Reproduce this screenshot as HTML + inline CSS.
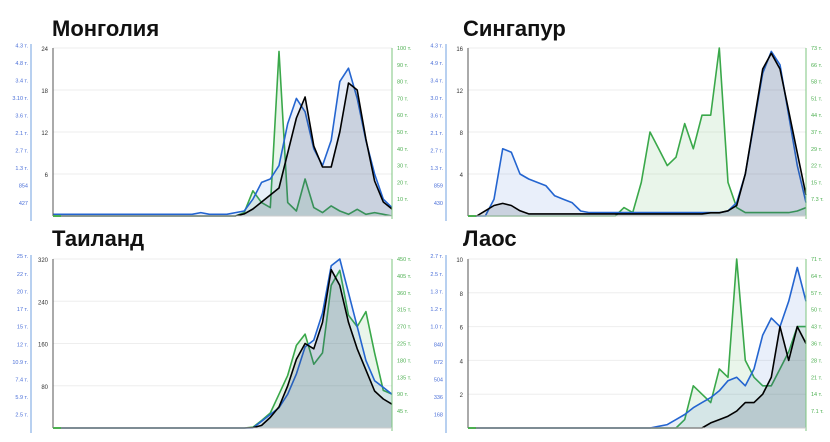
<!DOCTYPE html>
<html><head><meta charset="utf-8">
<style>
body{margin:0;background:#fff;width:830px;height:442px;overflow:hidden;font-family:"Liberation Sans",sans-serif;}
svg{display:block}
</style></head>
<body>
<svg id="c" width="830" height="442"></svg>
<script>
const titles=["Монголия","Сингапур","Таиланд","Лаос"];
const blackTicks=[[6,12,18,24],[4,8,12,16],[80,160,240,320],[2,4,6,8,10]];
const blackMax=[24,16,320,10];
const blueTickLabels=[["427","854","1.3 т.","2.7 т.","2.1 т.","3.6 т.","3.10 т.","3.4 т.","4.8 т.","4.3 т."],
["430","859","1.3 т.","2.7 т.","2.1 т.","3.6 т.","3.0 т.","3.4 т.","4.9 т.","4.3 т."],
["2.5 т.","5.9 т.","7.4 т.","10.9 т.","12 т.","15 т.","17 т.","20 т.","22 т.","25 т."],
["168","336","504","672","840","1.0 т.","1.2 т.","1.3 т.","2.5 т.","2.7 т."]];
const greenTickLabels=[["10 т.","20 т.","30 т.","40 т.","50 т.","60 т.","70 т.","80 т.","90 т.","100 т."],
["7.3 т.","15 т.","22 т.","29 т.","37 т.","44 т.","51 т.","58 т.","66 т.","73 т."],
["45 т.","90 т.","135 т.","180 т.","225 т.","270 т.","315 т.","360 т.","405 т.","450 т."],
["7.1 т.","14 т.","21 т.","28 т.","36 т.","43 т.","50 т.","57 т.","64 т.","71 т."]];
const blackVals=[
[0,0,0,0,0,0,0,0,0,0,0,0,0,0,0,0,0,0,0,0,0,0,0.3,1,2,3,4,9,14,17,10,7,7,12,19,18,11,5,2,1],
[0,0,0.5,1,1.2,1,0.5,0.2,0.2,0.2,0.2,0.2,0.2,0.2,0.2,0.2,0.2,0.2,0.2,0.2,0.2,0.2,0.2,0.2,0.2,0.2,0.2,0.2,0.3,0.3,0.5,1,4,9,14,15.5,14,10,6,2],
[0,0,0,0,0,0,0,0,0,0,0,0,0,0,0,0,0,0,0,0,0,0,0,0.5,5,20,40,80,130,160,150,200,300,270,200,150,110,70,55,45],
[0,0,0,0,0,0,0,0,0,0,0,0,0,0,0,0,0,0,0,0,0,0,0,0,0,0,0,0,0.3,0.5,0.7,1,1.5,1.5,2,3,6,4,6,5]];
const blueVals=[
[1,1,1,1,1,1,1,1,1,1,1,1,1,1,1,1,1,2,1,1,1,2,3,10,20,22,30,55,70,62,40,30,45,80,88,70,45,25,10,5],
[0,0,0,10,40,38,25,22,20,18,12,10,8,3,2,2,2,2,2,2,2,2,2,2,2,2,2,2,2,2,3,8,25,55,85,98,90,60,30,8],
[0,0,0,0,0,0,0,0,0,0,0,0,0,0,0,0,0,0,0,0,0,0,0,0,4,8,12,20,32,48,52,68,96,100,80,60,40,28,24,20],
[0,0,0,0,0,0,0,0,0,0,0,0,0,0,0,0,0,0,0,0,0,0,1,2,5,8,12,15,18,22,28,30,25,35,55,65,60,75,95,75]];
const greenVals=[
[0,0,0,0,0,0,0,0,0,0,0,0,0,0,0,0,0,0,0,0,0,0,2,15,8,5,98,8,3,22,5,2,6,3,1,4,1,2,1,0],
[0,0,0,0,0,0,0,0,0,0,0,0,0,0,0,0,0,0,5,2,20,50,40,30,35,55,40,60,60,100,20,5,2,2,2,2,2,2,3,5],
[0,0,0,0,0,0,0,0,0,0,0,0,0,0,0,0,0,0,0,0,0,0,0,2,20,40,90,140,220,250,170,200,380,420,300,270,310,200,100,90],
[0,0,0,0,0,0,0,0,0,0,0,0,0,0,0,0,0,0,0,0,0,0,0,0,0,5,25,20,15,35,30,100,40,30,25,25,35,45,60,60]];
const greenMax=[100,100,450,100];
const NS="http://www.w3.org/2000/svg";
const svg=document.getElementById('c');
function mk(tag,attrs,parent){const e=document.createElementNS(NS,tag);for(const k in attrs)e.setAttribute(k,attrs[k]);(parent||svg).appendChild(e);return e;}
const panels=[{x0:53,x1:392,y0:48,y1:216,tx:52,ty:36},{x0:468,x1:806,y0:48,y1:216,tx:463,ty:36},
{x0:53,x1:392,y0:259,y1:428,tx:52,ty:246},{x0:468,x1:806,y0:259,y1:428,tx:463,ty:246}];
panels.forEach((p,k)=>{
 const g=mk('g',{});
 
 
 const t=mk('text',{x:p.tx,y:p.ty,'font-size':22,'font-weight':'bold',fill:'#111'},g);t.textContent=titles[k];
 
 
 const xs=i=>p.x0+i*(p.x1-p.x0)/(blackVals[k].length-1);
 const yb=v=>p.y1-v/blackMax[k]*(p.y1-p.y0);
 const yp=v=>p.y1-v/100*(p.y1-p.y0);
 const yg=v=>p.y1-v/greenMax[k]*(p.y1-p.y0);
 blackTicks[k].forEach(v=>{
  mk('line',{x1:p.x0,x2:p.x1,y1:yb(v),y2:yb(v),stroke:'#eee'},g);
  const l=mk('text',{x:p.x0-5,y:yb(v)+3,'font-size':6,'text-anchor':'end',fill:'#333'},g);l.textContent=v;
  
  
 });
 const bax=p.x0-22, lblX=p.x0-25;
 mk('line',{x1:bax,x2:bax,y1:p.y0-4,y2:p.y1+5,stroke:'#b8d0f0','stroke-width':2},g);
 blueTickLabels[k].forEach((s,j)=>{const y=p.y1-(j+1)*(p.y1-p.y0+5)/10-2+10*0;const l=mk('text',{x:bax-3,y:p.y1-(j+0.7)*(p.y1-p.y0)/9.6+1,'font-size':5.5,'text-anchor':'end',fill:'#4a6fd8'},g);l.textContent=s;
  
  });
 greenTickLabels[k].forEach((s,j)=>{const l=mk('text',{x:p.x1+5,y:yp((j+1)*10)+2,'font-size':5.5,fill:'#4caf50'},g);l.textContent=s;
  
  });
 function series(vals,yf,stroke,fill,name){
  let d='M'+xs(0)+','+yf(vals[0]);for(let i=1;i<vals.length;i++)d+='L'+xs(i).toFixed(1)+','+yf(vals[i]).toFixed(1);
  const a=mk('path',{d:d+'L'+p.x1+','+p.y1+'L'+p.x0+','+p.y1+'Z',fill:fill,stroke:'none'},g);
  
  
  const l=mk('path',{d:d,fill:'none',stroke:stroke,'stroke-width':1.6,'stroke-linejoin':'round'},g);
  
  
 }
 series(greenVals[k],yg,'#3aa84a','rgba(76,175,80,0.12)','green-series');
 series(blueVals[k],yp,'#2465d0','rgba(36,101,208,0.10)','blue-series');
 series(blackVals[k],yb,'#000','rgba(60,80,100,0.18)','black-series');
 mk('line',{x1:p.x0,x2:p.x0,y1:p.y0,y2:p.y1,stroke:'#555'},g);
 mk('line',{x1:p.x1,x2:p.x1,y1:p.y0,y2:p.y1+3,stroke:'#7cc47f'},g);
 mk('line',{x1:p.x0,x2:p.x1,y1:p.y1,y2:p.y1,stroke:'#ccc'},g);
 mk('line',{x1:p.x0,x2:p.x0+8,y1:p.y1,y2:p.y1,stroke:'#4caf50','stroke-width':2},g);
});
</script>
</body></html>
